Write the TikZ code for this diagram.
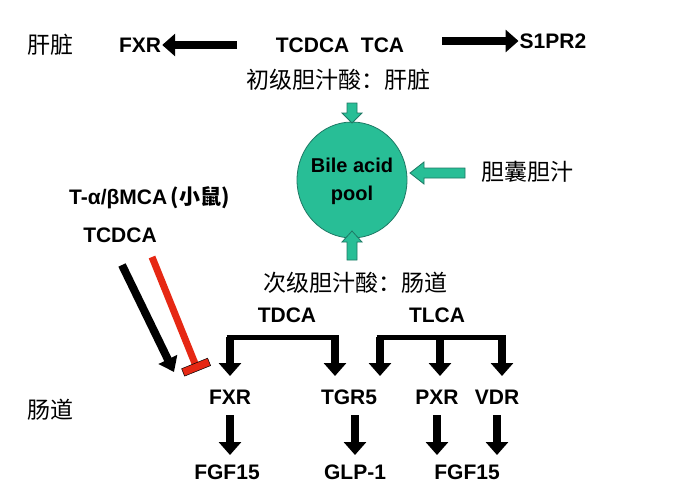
\documentclass[tikz,border=0pt]{standalone}
\usepackage{fontspec}
\setmainfont{Liberation Sans}
\newfontfamily\cjk{Noto Sans CJK SC}
\usetikzlibrary{arrows.meta,shapes.geometric}
\definecolor{teal1}{RGB}{40,190,150}
\definecolor{teal2}{RGB}{30,120,100}
\definecolor{redx}{RGB}{230,40,20}
\begin{document}
\begin{tikzpicture}[x=1pt,y=-1pt,
 lbl/.style={font=\fontsize{21}{21}\selectfont\bfseries, inner sep=1pt},
 cn/.style={font=\fontsize{23}{23}\selectfont\cjk, inner sep=1pt},
 fat/.style={line width=8pt,-{Triangle[length=13pt,width=22pt]}},
 hol/.style={draw=teal2, fill=teal1, line width=0.8pt}]
\useasboundingbox (0,0) rectangle (676,500);
\node[cn] (liver) at (50,45) {肝脏};
\node[lbl] (fxr1) at (140,45) {FXR};
\node[lbl] (tc) at (340,45) {TCDCA\ \ TCA};
\node[lbl] (s1) at (553,41) {S1PR2};
\draw[fat] (237,45) -- (fxr1.east);
\draw[fat] (442,41) -- (s1.west);
\node[cn] (prim) at (338,80) {初级胆汁酸：肝脏};
\node[ellipse, draw=teal2, fill=teal1, minimum width=110pt, minimum height=116pt, line width=0.8pt] (pool) at (352,180) {};
\node[lbl, align=center, font=\fontsize{20}{28}\selectfont\bfseries] at (352,181) {Bile acid\\pool};
\draw[hol] (347,103) -- (357,103) -- (357,113) -- (362,113) -- (352,123) -- (342,113) -- (347,113) -- cycle;
\draw[hol] (347,260) -- (357,260) -- (357,242) -- (362,242) -- (352,231) -- (342,242) -- (347,242) -- cycle;
\draw[hol] (465,168) -- (465,178) -- (424,178) -- (424,184) -- (410,173) -- (424,162) -- (424,168) -- cycle;
\node[cn] (gb) at (527,172) {胆囊胆汁};
\node[lbl, anchor=west] (mca) at (68,198) {T-α/βMCA\,{\cjk(小鼠)}};
\node[lbl] (tcdca) at (120,235) {TCDCA};
\node[cn] (sec) at (355,283) {次级胆汁酸：肠道};
\node[lbl] (tdca) at (287,315) {TDCA};
\node[lbl] (tlca) at (437,315) {TLCA};
\node[cn] (gut) at (50,410) {肠道};
\node[lbl] (fxr2) at (230,397) {FXR};
\node[lbl] (tgr) at (349,397) {TGR5};
\node[lbl] (pxr) at (437,397) {PXR};
\node[lbl] (vdr) at (497,397) {VDR};
\node[lbl] (f1) at (227,472) {FGF15};
\node[lbl] (glp) at (355,472) {GLP-1};
\node[lbl] (f2) at (467,472) {FGF15};
\coordinate (b1) at (230,337); \coordinate (b2) at (335,337);
\coordinate (c1) at (380,337); \coordinate (c2) at (440,337); \coordinate (c3) at (502,337);
\draw[line width=5pt] (226.5,337) -- (338.5,337);
\draw[line width=5pt] (376.5,337) -- (505.5,337);
\draw[fat] (b1) -- (230,376);
\draw[fat] (b2) -- (335,376);
\draw[fat] (c1) -- (380,376);
\draw[fat] (c2) -- (440,376);
\draw[fat] (c3) -- (502,376);
\draw[fat] (230,415) -- (230,455);
\draw[fat] (355,415) -- (355,455);
\draw[fat] (437,415) -- (437,455);
\draw[fat] (497,415) -- (497,455);
\draw[line width=8pt, -{Triangle[length=14pt,width=20pt]}] (122,265) -- (174,372);
\draw[redx, line width=7pt] (152,257) -- (196,366);
\draw[draw=black, line width=0.5pt, fill=redx] (181.6,368.7) -- (207.6,358.2) -- (210.6,365.6) -- (184.6,376.1) -- cycle;
\end{tikzpicture}
\end{document}
